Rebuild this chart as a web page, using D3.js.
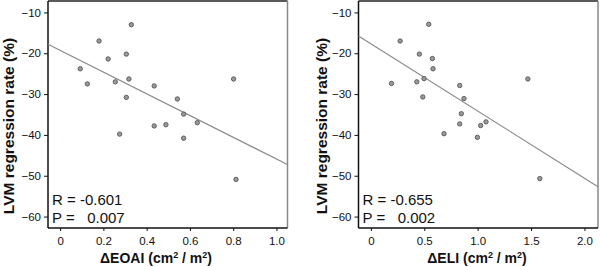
<!DOCTYPE html>
<html>
<head>
<meta charset="utf-8">
<script src="https://cdn.jsdelivr.net/npm/d3@7"></script>
<style>
  body { margin: 0; background: #fff; }
  svg { display: block; font-family: "Liberation Sans", Arial, sans-serif; }
</style>
</head>
<body>
<div id="chart"></div>
<script>
// values
const eoaiX = [0.093, 0.126, 0.18, 0.222, 0.255, 0.306, 0.306, 0.329, 0.318, 0.275,
               0.435, 0.435, 0.489, 0.542, 0.571, 0.571, 0.634, 0.802, 0.813];
const eoaiY = [-23.8, -27.5, -17.0, -21.4, -27.0, -20.2, -30.8, -13.0, -26.3, -39.8,
               -28.0, -37.8, -37.5, -31.2, -34.9, -40.8, -37.0, -26.3, -50.9];
const eliX = [0.193, 0.274, 0.454, 0.43, 0.498, 0.486, 0.542, 0.576, 0.582, 0.685,
              0.832, 0.872, 0.847, 0.832, 1.028, 1.078, 0.997, 1.47, 1.582];
const eliY = [-27.4, -17.0, -20.2, -27.0, -26.2, -30.7, -12.9, -21.3, -23.8, -39.7,
              -27.9, -31.1, -34.8, -37.3, -37.7, -36.8, -40.6, -26.3, -50.7];
// [intercept, slope] of fitted lines
const eoaiFit = [-19.3, -26.6];
const eliFit = [-17.7, -16.45];
const yTicks = [-10, -20, -30, -40, -50, -60];
const eoaiTicks = [0, 0.2, 0.4, 0.6, 0.8, 1.0];
const eliTicks = [0, 0.5, 1.0, 1.5, 2.0];

const W = 600, H = 267;
const svg = d3.select("#chart").append("svg")
  .attr("width", W).attr("height", H);

function drawPanel(opt) {
  let x = d3.scaleLinear().domain(opt.xDomain).range([opt.left, opt.right]);
  let y = d3.scaleLinear().domain([-62.8, -7.2]).range([228, 1]);
  let g = svg.append("g");

  // frame (top + right are lighter)
  g.append("line").attr("x1", opt.left).attr("x2", opt.right).attr("y1", 1).attr("y2", 1)
    .attr("stroke", "#222").attr("stroke-width", 1.5);
  g.append("line").attr("x1", opt.right).attr("x2", opt.right).attr("y1", 1).attr("y2", 228)
    .attr("stroke", "#888").attr("stroke-width", 1.5);

  let yAxis = d3.axisLeft(y).tickValues(yTicks).tickSize(4).tickPadding(3);
  let gy = g.append("g").attr("transform", `translate(${opt.left},0)`).call(yAxis);
  let xAxis = d3.axisBottom(x).tickValues(opt.ticks).tickSize(3).tickPadding(6)
    .tickFormat(d => d === 0 ? "0" : d3.format(".1f")(d));
  let gx = g.append("g").attr("transform", "translate(0,228)").call(xAxis);
  [gx, gy].forEach(a => {
    a.select(".domain").attr("stroke", "#111").attr("stroke-width", 1.5);
    a.selectAll(".tick line").attr("stroke", "#111");
    a.selectAll("text").attr("font-size", 11.5).attr("fill", "#111")
      .attr("font-family", "Liberation Sans, Arial, sans-serif");
  });
  // close the corner of both axis lines
  gx.select(".domain").attr("d", `M${opt.left},0H${opt.right}`);
  gy.select(".domain").attr("d", `M0,228V1`);

  // regression line
  let fit = opt.fit;
  g.append("line")
    .attr("x1", x(opt.xDomain[0])).attr("y1", y(fit[0] + fit[1] * opt.xDomain[0]))
    .attr("x2", x(opt.xDomain[1])).attr("y2", y(fit[0] + fit[1] * opt.xDomain[1]))
    .attr("stroke", "#8a8a8a").attr("stroke-width", 1.2);

  // points
  g.selectAll("circle.pt").data(opt.xs.map((v, i) => [v, opt.ys[i]]))
    .join("circle").attr("class", "pt")
    .attr("cx", d => x(d[0])).attr("cy", d => y(d[1]))
    .attr("r", 2.2)
    .attr("fill", "#9a9a9a").attr("stroke", "#555").attr("stroke-width", 0.9);

  // stats
  g.append("text").attr("x", opt.left + 4).attr("y", 205)
    .attr("font-size", 15).attr("fill", "#111").text(opt.r);
  g.append("text").attr("x", opt.left + 4).attr("y", 222.5)
    .attr("font-size", 15).attr("fill", "#111")
    .style("white-space", "pre").text(opt.p);

  // y label
  g.append("text")
    .attr("transform", `translate(${opt.ylabX},126) rotate(-90)`)
    .attr("text-anchor", "middle").attr("font-size", 15.5).attr("font-weight", "bold")
    .attr("fill", "#111").text("LVM regression rate (%)");

  // x label
  let xl = g.append("text").attr("x", opt.xlabX).attr("y", 263)
    .attr("text-anchor", "middle").attr("font-size", 14).attr("font-weight", "bold")
    .attr("fill", "#111");
  xl.append("tspan").text(opt.xname + " (cm");
  xl.append("tspan").attr("dy", -5).attr("font-size", 9).text("2");
  xl.append("tspan").attr("dy", 5).text(" / m");
  xl.append("tspan").attr("dy", -5).attr("font-size", 9).text("2");
  xl.append("tspan").attr("dy", 5).text(")");
}

drawPanel({
  left: 48, right: 287.5, xDomain: [-0.056, 1.051], ticks: eoaiTicks,
  xs: eoaiX, ys: eoaiY, fit: eoaiFit,
  r: "R = -0.601", p: "P =   0.007",
  ylabX: 13.5, xlabX: 156, xname: "\u0394EOAI"
});
drawPanel({
  left: 358.5, right: 598, xDomain: [-0.116, 2.127], ticks: eliTicks,
  xs: eliX, ys: eliY, fit: eliFit,
  r: "R = -0.655", p: "P =   0.002",
  ylabX: 326.5, xlabX: 477, xname: "\u0394ELI"
});
</script>
</body>
</html>
